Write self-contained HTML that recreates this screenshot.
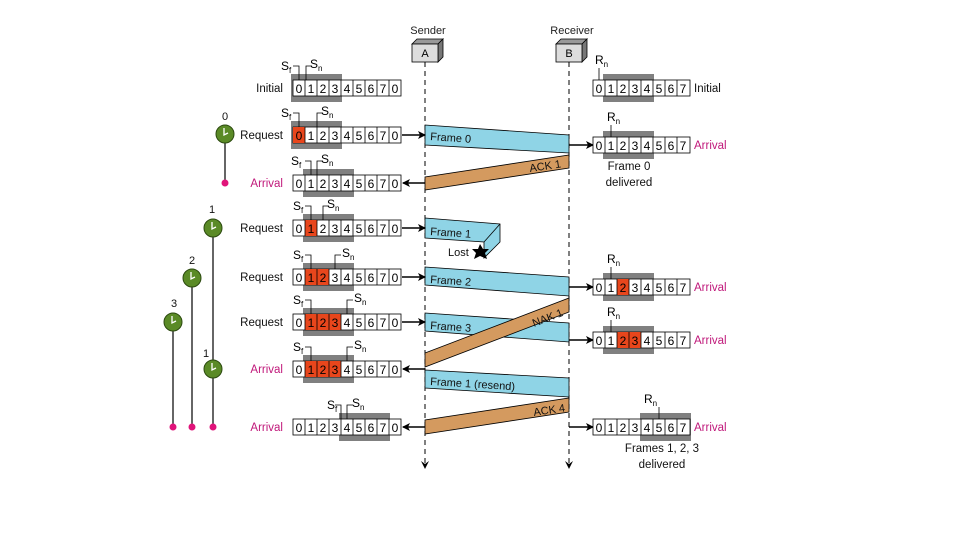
<!DOCTYPE html>
<html><head><meta charset="utf-8"><style>
html,body{margin:0;padding:0;background:#fff}
svg{display:block}
text{font-family:"Liberation Sans",sans-serif}
</style></head><body>
<svg width="960" height="540" viewBox="0 0 960 540" xmlns="http://www.w3.org/2000/svg">
<defs>
<marker id="ah" markerWidth="8" markerHeight="8" refX="7" refY="4" orient="auto" markerUnits="userSpaceOnUse"><path d="M0,0 L8,4 L0,8 L2,4 z" fill="#000"/></marker>
<marker id="ad" markerWidth="8" markerHeight="8" refX="4" refY="7" orient="0" markerUnits="userSpaceOnUse"><path d="M0,0 L4,8 L8,0 L4,3 z" fill="#000"/></marker>
</defs>

<text x="428" y="34" font-size="11" text-anchor="middle" fill="#222">Sender</text>
<text x="572" y="34" font-size="11" text-anchor="middle" fill="#222">Receiver</text>
<polygon points="412,44 417,39 443,39 438,44" fill="#999" stroke="#000" stroke-width="0.8"/>
<polygon points="438,44 443,39 443,57 438,62" fill="#777" stroke="#000" stroke-width="0.8"/>
<rect x="412" y="44" width="26" height="18" fill="#ddd" stroke="#000" stroke-width="0.8"/>
<text x="425" y="57" font-size="11" text-anchor="middle">A</text>
<polygon points="556,44 561,39 587,39 582,44" fill="#999" stroke="#000" stroke-width="0.8"/>
<polygon points="582,44 587,39 587,57 582,62" fill="#777" stroke="#000" stroke-width="0.8"/>
<rect x="556" y="44" width="26" height="18" fill="#ddd" stroke="#000" stroke-width="0.8"/>
<text x="569" y="57" font-size="11" text-anchor="middle">B</text>
<line x1="425" y1="62" x2="425" y2="468" stroke="#000" stroke-dasharray="5,4" marker-end="url(#ad)"/>
<line x1="569" y1="62" x2="569" y2="468" stroke="#000" stroke-dasharray="5,4" marker-end="url(#ad)"/>

<g stroke="#000" stroke-width="0.8">
<polygon points="425,125 569,135 569,153 425,145" fill="#8fd4e6"/>
<polygon points="569,155 569,168 425,190 425,177" fill="#d49a5f"/>
<polygon points="425,218 500,224 500,242 484,258 484,242 425,238" fill="#8fd4e6"/>
<polyline points="484,242 500,224" fill="none"/>
<polygon points="425,267 569,277 569,296 425,285" fill="#8fd4e6"/>
<polygon points="425,313 569,323 569,342 425,331" fill="#8fd4e6"/>
<polygon points="569,298 569,312 425,367 425,353" fill="#d49a5f"/>
<polygon points="425,370 569,378 569,397 425,388" fill="#8fd4e6"/>
<polygon points="569,398 569,412 425,434 425,420" fill="#d49a5f"/>
</g>
<g font-size="11" fill="#111">
<text x="430" y="140" transform="rotate(4 430 140)">Frame 0</text>
<text x="530" y="172" transform="rotate(-8.5 530 172)">ACK 1</text>
<text x="430" y="235" transform="rotate(4 430 235)">Frame 1</text>
<text x="430" y="283" transform="rotate(4 430 283)">Frame 2</text>
<text x="430" y="329" transform="rotate(4 430 329)">Frame 3</text>
<text x="534" y="327" transform="rotate(-21 534 327)">NAK 1</text>
<text x="430" y="385" transform="rotate(3.5 430 385)">Frame 1 (resend)</text>
<text x="534" y="416" transform="rotate(-8.5 534 416)">ACK 4</text>
<text x="448" y="256">Lost</text>
</g>
<polygon points="480,244 483,249 489,249 485,253 487,259 480,256 474,259 476,253 472,249 478,249" fill="#000"/>

<g stroke="#000" stroke-width="1.5">
<line x1="402" y1="135" x2="425" y2="135" marker-end="url(#ah)"/>
<line x1="425" y1="183" x2="403" y2="183" marker-end="url(#ah)"/>
<line x1="402" y1="228" x2="425" y2="228" marker-end="url(#ah)"/>
<line x1="402" y1="277" x2="425" y2="277" marker-end="url(#ah)"/>
<line x1="402" y1="322" x2="425" y2="322" marker-end="url(#ah)"/>
<line x1="425" y1="369" x2="403" y2="369" marker-end="url(#ah)"/>
<line x1="425" y1="427" x2="403" y2="427" marker-end="url(#ah)"/>
<line x1="569" y1="145" x2="593" y2="145" marker-end="url(#ah)"/>
<line x1="569" y1="287" x2="593" y2="287" marker-end="url(#ah)"/>
<line x1="569" y1="340" x2="593" y2="340" marker-end="url(#ah)"/>
<line x1="569" y1="427" x2="593" y2="427" marker-end="url(#ah)"/>
</g>

<g fill="#808080">
<rect x="291" y="74" width="51" height="28"/>
<rect x="291" y="121" width="51" height="28"/>
<rect x="303" y="169" width="51" height="28"/>
<rect x="303" y="214" width="51" height="28"/>
<rect x="303" y="263" width="51" height="28"/>
<rect x="303" y="308" width="51" height="28"/>
<rect x="303" y="355" width="51" height="28"/>
<rect x="339" y="413" width="51" height="28"/>
<rect x="603" y="74" width="51" height="28"/>
<rect x="603" y="131" width="51" height="28"/>
<rect x="603" y="273" width="51" height="28"/>
<rect x="603" y="326" width="51" height="28"/>
<rect x="640" y="413" width="51" height="28"/>
</g>

<g stroke="#000" stroke-width="0.8">
<rect x="293" y="80" width="108" height="16" fill="#fff"/>
<rect x="293" y="127" width="108" height="16" fill="#fff"/>
<rect x="293" y="175" width="108" height="16" fill="#fff"/>
<rect x="293" y="220" width="108" height="16" fill="#fff"/>
<rect x="293" y="269" width="108" height="16" fill="#fff"/>
<rect x="293" y="314" width="108" height="16" fill="#fff"/>
<rect x="293" y="361" width="108" height="16" fill="#fff"/>
<rect x="293" y="419" width="108" height="16" fill="#fff"/>
<rect x="593" y="80" width="97" height="16" fill="#fff"/>
<rect x="593" y="137" width="97" height="16" fill="#fff"/>
<rect x="593" y="279" width="97" height="16" fill="#fff"/>
<rect x="593" y="332" width="97" height="16" fill="#fff"/>
<rect x="593" y="419" width="97" height="16" fill="#fff"/>
</g>
<g fill="#e8461c">
<rect x="293" y="127" width="12" height="16"/>
<rect x="305" y="220" width="12" height="16"/>
<rect x="305" y="269" width="24" height="16"/>
<rect x="305" y="314" width="36" height="16"/>
<rect x="305" y="361" width="36" height="16"/>
<rect x="617" y="279" width="12" height="16"/>
<rect x="617" y="332" width="24" height="16"/>
</g>
<g stroke="#000" stroke-width="0.8">
<path d="M305,80v16M317,80v16M329,80v16M341,80v16M353,80v16M365,80v16M377,80v16M389,80v16"/>
<path d="M305,127v16M317,127v16M329,127v16M341,127v16M353,127v16M365,127v16M377,127v16M389,127v16"/>
<path d="M305,175v16M317,175v16M329,175v16M341,175v16M353,175v16M365,175v16M377,175v16M389,175v16"/>
<path d="M305,220v16M317,220v16M329,220v16M341,220v16M353,220v16M365,220v16M377,220v16M389,220v16"/>
<path d="M305,269v16M317,269v16M329,269v16M341,269v16M353,269v16M365,269v16M377,269v16M389,269v16"/>
<path d="M305,314v16M317,314v16M329,314v16M341,314v16M353,314v16M365,314v16M377,314v16M389,314v16"/>
<path d="M305,361v16M317,361v16M329,361v16M341,361v16M353,361v16M365,361v16M377,361v16M389,361v16"/>
<path d="M305,419v16M317,419v16M329,419v16M341,419v16M353,419v16M365,419v16M377,419v16M389,419v16"/>
<path d="M605,80v16M617,80v16M629,80v16M641,80v16M653,80v16M665,80v16M677,80v16"/>
<path d="M605,137v16M617,137v16M629,137v16M641,137v16M653,137v16M665,137v16M677,137v16"/>
<path d="M605,279v16M617,279v16M629,279v16M641,279v16M653,279v16M665,279v16M677,279v16"/>
<path d="M605,332v16M617,332v16M629,332v16M641,332v16M653,332v16M665,332v16M677,332v16"/>
<path d="M605,419v16M617,419v16M629,419v16M641,419v16M653,419v16M665,419v16M677,419v16"/>
</g>
<g font-size="12" text-anchor="middle" fill="#000">
<text x="299 311 323 335 347 359 371 383 395" y="93">012345670</text>
<text x="299 311 323 335 347 359 371 383 395" y="140">012345670</text>
<text x="299 311 323 335 347 359 371 383 395" y="188">012345670</text>
<text x="299 311 323 335 347 359 371 383 395" y="233">012345670</text>
<text x="299 311 323 335 347 359 371 383 395" y="282">012345670</text>
<text x="299 311 323 335 347 359 371 383 395" y="327">012345670</text>
<text x="299 311 323 335 347 359 371 383 395" y="374">012345670</text>
<text x="299 311 323 335 347 359 371 383 395" y="432">012345670</text>
<text x="599 611 623 635 647 659 671 683" y="93">01234567</text>
<text x="599 611 623 635 647 659 671 683" y="150">01234567</text>
<text x="599 611 623 635 647 659 671 683" y="292">01234567</text>
<text x="599 611 623 635 647 659 671 683" y="345">01234567</text>
<text x="599 611 623 635 647 659 671 683" y="432">01234567</text>
</g>

<g stroke="#000" stroke-width="0.8" fill="none">
<path d="M299,80V66h-6M306,80V66h6"/>
<path d="M299,127V113h-6M317,127V113h6"/>
<path d="M311,175V161h-6M317,175V161h6"/>
<path d="M311,220V206h-6M323,220V206h6"/>
<path d="M311,269V255h-6M335,269V255h6"/>
<path d="M311,314V300h-6M347,314V300h6"/>
<path d="M311,361V347h-6M347,361V347h6"/>
<path d="M341,419V405h-6M347,419V405h6"/>
<path d="M599,80V68M611,137V125M611,279V267M611,332V320M659,419V407"/>
</g>
<g font-size="12" fill="#000">
<text x="281" y="70">S<tspan font-size="8" dy="3">f</tspan></text><text x="310" y="68">S<tspan font-size="8" dy="3">n</tspan></text>
<text x="281" y="117">S<tspan font-size="8" dy="3">f</tspan></text><text x="321" y="115">S<tspan font-size="8" dy="3">n</tspan></text>
<text x="291" y="165">S<tspan font-size="8" dy="3">f</tspan></text><text x="321" y="163">S<tspan font-size="8" dy="3">n</tspan></text>
<text x="293" y="210">S<tspan font-size="8" dy="3">f</tspan></text><text x="327" y="208">S<tspan font-size="8" dy="3">n</tspan></text>
<text x="293" y="259">S<tspan font-size="8" dy="3">f</tspan></text><text x="342" y="257">S<tspan font-size="8" dy="3">n</tspan></text>
<text x="293" y="304">S<tspan font-size="8" dy="3">f</tspan></text><text x="354" y="302">S<tspan font-size="8" dy="3">n</tspan></text>
<text x="293" y="351">S<tspan font-size="8" dy="3">f</tspan></text><text x="354" y="349">S<tspan font-size="8" dy="3">n</tspan></text>
<text x="327" y="409">S<tspan font-size="8" dy="3">f</tspan></text><text x="352" y="407">S<tspan font-size="8" dy="3">n</tspan></text>
<text x="595" y="64">R<tspan font-size="8" dy="3">n</tspan></text>
<text x="607" y="121">R<tspan font-size="8" dy="3">n</tspan></text>
<text x="607" y="263">R<tspan font-size="8" dy="3">n</tspan></text>
<text x="607" y="316">R<tspan font-size="8" dy="3">n</tspan></text>
<text x="644" y="403">R<tspan font-size="8" dy="3">n</tspan></text>
</g>

<g font-size="11.5">
<text x="283" y="92" text-anchor="end" fill="#111">Initial</text>
<text x="283" y="139" text-anchor="end" fill="#111">Request</text>
<text x="283" y="187" text-anchor="end" fill="#c0187a">Arrival</text>
<text x="283" y="232" text-anchor="end" fill="#111">Request</text>
<text x="283" y="281" text-anchor="end" fill="#111">Request</text>
<text x="283" y="326" text-anchor="end" fill="#111">Request</text>
<text x="283" y="373" text-anchor="end" fill="#c0187a">Arrival</text>
<text x="283" y="431" text-anchor="end" fill="#c0187a">Arrival</text>
<text x="694" y="92" fill="#111">Initial</text>
<text x="694" y="149" fill="#c0187a">Arrival</text>
<text x="694" y="291" fill="#c0187a">Arrival</text>
<text x="694" y="344" fill="#c0187a">Arrival</text>
<text x="694" y="431" fill="#c0187a">Arrival</text>
<text x="629" y="170" text-anchor="middle" fill="#111">Frame 0</text>
<text x="629" y="186" text-anchor="middle" fill="#111">delivered</text>
<text x="662" y="452" text-anchor="middle" fill="#111">Frames 1, 2, 3</text>
<text x="662" y="468" text-anchor="middle" fill="#111">delivered</text>
</g>

<g stroke="#000" stroke-width="1.2">
<line x1="225" y1="134" x2="225" y2="183"/>
<line x1="213" y1="228" x2="213" y2="427"/>
<line x1="192" y1="278" x2="192" y2="427"/>
<line x1="173" y1="322" x2="173" y2="427"/>
</g>
<g fill="#5a8a26" stroke="#2c4a10" stroke-width="1">
<circle cx="225" cy="134" r="9"/>
<circle cx="213" cy="228" r="9"/>
<circle cx="192" cy="278" r="9"/>
<circle cx="173" cy="322" r="9"/>
<circle cx="213" cy="369" r="9"/>
</g>
<g stroke="#fff" stroke-width="1.3" fill="none">
<path d="M224,128v7l4,-2"/><path d="M212,222v7l4,-2"/><path d="M191,272v7l4,-2"/><path d="M172,316v7l4,-2"/><path d="M212,363v7l4,-2"/>
</g>
<g fill="#e0147a">
<circle cx="225" cy="183" r="3.5"/><circle cx="173" cy="427" r="3.5"/><circle cx="192" cy="427" r="3.5"/><circle cx="213" cy="427" r="3.5"/>
</g>
<g font-size="11" text-anchor="middle" fill="#111">
<text x="225" y="120">0</text><text x="212" y="213">1</text><text x="192" y="264">2</text><text x="174" y="307">3</text><text x="206" y="357">1</text>
</g>
</svg>
</body></html>
